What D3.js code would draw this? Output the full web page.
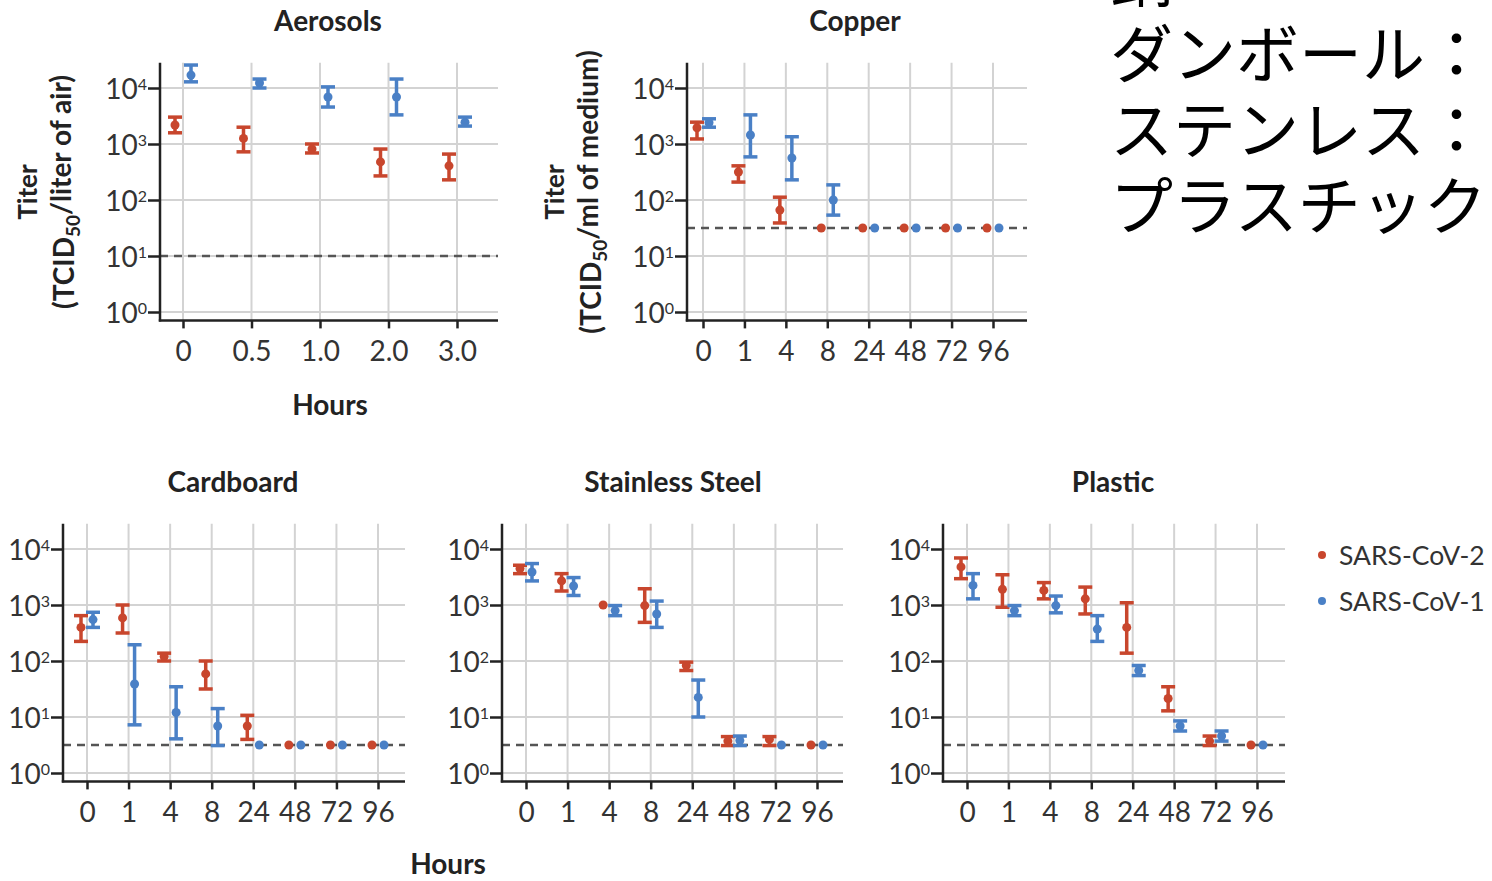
<!DOCTYPE html>
<html><head><meta charset="utf-8">
<script src="https://cdn.jsdelivr.net/npm/d3@7"></script>
<style>
html,body{margin:0;padding:0;background:#fff;}
svg{display:block;}
</style></head>
<body>
<svg id="chart" width="1492" height="881"></svg>
<script>
// ---------- DATA (log10 titer: [mid, low, high]; null = no error bar) ----------
const hoursAerosol = ["0", "0.5", "1.0", "2.0", "3.0"];
const hoursSurface = ["0", "1", "4", "8", "24", "48", "72", "96"];
const seriesNames = ["SARS-CoV-2", "SARS-CoV-1"];

const aerosolCov2 = [[3.34,3.20,3.48],[3.10,2.86,3.30],[2.91,2.84,3.00],[2.68,2.43,2.91],[2.61,2.36,2.82]];
const aerosolCov1 = [[4.23,4.11,4.41],[4.09,4.00,4.16],[3.84,3.66,4.02],[3.84,3.52,4.16],[3.39,3.32,3.48]];

const copperCov2 = [[3.29,3.09,3.39],[2.50,2.32,2.61],[1.82,1.59,2.05],[1.5,null,null],[1.5,null,null],[1.5,null,null],[1.5,null,null],[1.5,null,null]];
const copperCov1 = [[3.38,3.30,3.45],[3.16,2.77,3.52],[2.75,2.36,3.13],[2.00,1.73,2.27],[1.5,null,null],[1.5,null,null],[1.5,null,null],[1.5,null,null]];

const cardboardCov2 = [[2.60,2.35,2.81],[2.77,2.50,3.00],[2.08,2.00,2.14],[1.77,1.50,2.00],[0.84,0.60,1.03],[0.5,null,null],[0.5,null,null],[0.5,null,null]];
const cardboardCov1 = [[2.74,2.60,2.87],[1.59,0.86,2.29],[1.08,0.61,1.54],[0.84,0.49,1.15],[0.5,null,null],[0.5,null,null],[0.5,null,null],[0.5,null,null]];

const steelCov2 = [[3.65,3.56,3.71],[3.43,3.25,3.56],[3.00,null,null],[2.99,2.69,3.29],[1.92,1.83,1.98],[0.57,0.49,0.65],[0.60,0.49,0.65],[0.5,null,null]];
const steelCov1 = [[3.59,3.43,3.74],[3.34,3.17,3.49],[2.90,2.81,2.99],[2.84,2.60,3.07],[1.35,1.00,1.66],[0.58,0.49,0.66],[0.5,null,null],[0.5,null,null]];

const plasticCov2 = [[3.68,3.47,3.84],[3.28,2.96,3.54],[3.26,3.11,3.40],[3.11,2.84,3.32],[2.60,2.14,3.04],[1.33,1.11,1.54],[0.57,0.49,0.66],[0.5,null,null]];
const plasticCov1 = [[3.35,3.11,3.56],[2.90,2.81,2.99],[2.99,2.86,3.16],[2.57,2.35,2.81],[1.83,1.74,1.92],[0.84,0.75,0.93],[0.66,0.57,0.75],[0.5,null,null]];

const detectionLimitAerosol = 1.0;
const detectionLimitCopper = 1.5;
const detectionLimitSurface = 0.5;

const yTickExponents = [0, 1, 2, 3, 4];
const noteLines = ["銅：", "ダンボール：", "ステンレス：", "プラスチック"];

// ---------- STYLE / LAYOUT ----------
const RED = "#c8462d", BLUE = "#4a80c6";
const FONT = "Lato, 'Open Sans', sans-serif";
const svg = d3.select("#chart");
svg.append("rect").attr("width",1492).attr("height",881).attr("fill","#fff");

const panels = [
  {title:"Aerosols", cats:hoursAerosol, s2:aerosolCov2, s1:aerosolCov1, limit:detectionLimitAerosol,
   x0:160, xEnd:498, first:183, last:457, base:312, off:8, titleX:328},
  {title:"Copper", cats:hoursSurface, s2:copperCov2, s1:copperCov1, limit:detectionLimitCopper,
   x0:687, xEnd:1027, first:703, last:993, base:312, off:6, titleX:855},
  {title:"Cardboard", cats:hoursSurface, s2:cardboardCov2, s1:cardboardCov1, limit:detectionLimitSurface,
   x0:63, xEnd:405, first:87, last:378, base:773, off:6, titleX:233},
  {title:"Stainless Steel", cats:hoursSurface, s2:steelCov2, s1:steelCov1, limit:detectionLimitSurface,
   x0:502, xEnd:843, first:526, last:817, base:773, off:6, titleX:673},
  {title:"Plastic", cats:hoursSurface, s2:plasticCov2, s1:plasticCov1, limit:detectionLimitSurface,
   x0:943, xEnd:1285, first:967, last:1257, base:773, off:6, titleX:1113}
];
const DEC = 56;

function drawPanel(p){
  const g = svg.append("g");
  const x = d3.scalePoint().domain(p.cats).range([p.first, p.last]);
  const y = d3.scaleLog().domain([Math.pow(10,-0.15), Math.pow(10,4.45)])
              .range([p.base + 0.15*DEC, p.base - 4.45*DEC]);
  const yBot = y.range()[0], yTop = y.range()[1];

  // grid
  g.selectAll(".hg").data(yTickExponents).join("line")
    .attr("x1",p.x0).attr("x2",p.xEnd)
    .attr("y1",d=>y(Math.pow(10,d))).attr("y2",d=>y(Math.pow(10,d)))
    .attr("stroke","#d3d3d3").attr("stroke-width",2);
  g.selectAll(".vg").data(p.cats).join("line")
    .attr("x1",d=>x(d)).attr("x2",d=>x(d)).attr("y1",yTop).attr("y2",yBot)
    .attr("stroke","#d3d3d3").attr("stroke-width",2);

  // detection limit
  g.append("line").attr("x1",p.x0).attr("x2",p.xEnd)
    .attr("y1",y(Math.pow(10,p.limit))).attr("y2",y(Math.pow(10,p.limit)))
    .attr("stroke","#555").attr("stroke-width",2.5).attr("stroke-dasharray","8,6");

  // y axis
  const ya = g.append("g").attr("transform",`translate(${p.x0},0)`)
    .call(d3.axisLeft(y).tickValues(yTickExponents.map(e=>Math.pow(10,e))).tickSize(12).tickSizeOuter(0).tickFormat(""));
  ya.select(".domain").remove();
  ya.selectAll(".tick line").attr("stroke","#222").attr("stroke-width",2.5);
  ya.selectAll(".tick").append("text")
    .attr("x",-13).attr("dy","0.36em").attr("text-anchor","end")
    .attr("fill","#333").style("font-family",FONT).style("font-size","28px")
    .each(function(d){
      const t = d3.select(this);
      t.append("tspan").text("10");
      t.append("tspan").attr("dy","-0.55em").style("font-size","16px").text(Math.round(Math.log10(d)));
    });
  g.append("line").attr("x1",p.x0).attr("x2",p.x0).attr("y1",yTop).attr("y2",yBot+1.2)
    .attr("stroke","#222").attr("stroke-width",2.5);

  // x axis
  const xa = g.append("g").attr("transform",`translate(0,${yBot})`)
    .call(d3.axisBottom(x).tickSize(8).tickSizeOuter(0).tickPadding(13));
  xa.select(".domain").remove();
  xa.selectAll(".tick line").attr("stroke","#222").attr("stroke-width",2.5);
  xa.selectAll(".tick text").attr("fill","#333").style("font-family",FONT).style("font-size","28px");
  g.append("line").attr("x1",p.x0-1.2).attr("x2",p.xEnd).attr("y1",yBot).attr("y2",yBot)
    .attr("stroke","#222").attr("stroke-width",2.5);

  // title
  g.append("text").attr("x",p.titleX).attr("y",p.base - 281).attr("text-anchor","middle")
    .attr("fill","#222").style("font-family",FONT).style("font-weight","bold").style("font-size","28px")
    .text(p.title);

  // series
  [[p.s2, RED, -p.off], [p.s1, BLUE, p.off]].forEach(([data, col, off])=>{
    const sg = g.append("g");
    data.forEach((d,i)=>{
      const cx = x(p.cats[i]) + off;
      if (d[1] !== null){
        const y1 = y(Math.pow(10,d[1])), y2 = y(Math.pow(10,d[2]));
        sg.append("line").attr("x1",cx).attr("x2",cx).attr("y1",y1).attr("y2",y2).attr("stroke",col).attr("stroke-width",3.5);
        [y1,y2].forEach(yy=>sg.append("line").attr("x1",cx-7).attr("x2",cx+7).attr("y1",yy).attr("y2",yy)
          .attr("stroke",col).attr("stroke-width",3.5));
      }
      sg.append("circle").attr("cx",cx).attr("cy",y(Math.pow(10,d[0]))).attr("r",4.5).attr("fill",col);
    });
  });
}
panels.forEach(drawPanel);

// y axis titles
function yTitle(cx, cy, unit){
  svg.append("text").attr("transform",`translate(${cx},${cy}) rotate(-90)`)
    .attr("text-anchor","middle").attr("fill","#222").style("font-family",FONT)
    .style("font-weight","bold").style("font-size","26px").text("Titer");
  const t2 = svg.append("text").attr("transform",`translate(${cx+37},${cy}) rotate(-90)`)
    .attr("text-anchor","middle").attr("fill","#222").style("font-family",FONT)
    .style("font-weight","bold").style("font-size","28px");
  t2.append("tspan").text("(TCID");
  t2.append("tspan").attr("dy","0.3em").style("font-size","19px").text("50");
  t2.append("tspan").attr("dy","-0.3em").text(unit);
}
yTitle(37, 192, "/liter of air)");
yTitle(564, 192, "/ml of medium)");

// Hours labels
svg.append("text").attr("x",330).attr("y",415).attr("text-anchor","middle").attr("fill","#222")
  .style("font-family",FONT).style("font-weight","bold").style("font-size","28px").text("Hours");
svg.append("text").attr("x",448).attr("y",874).attr("text-anchor","middle").attr("fill","#222")
  .style("font-family",FONT).style("font-weight","bold").style("font-size","28px").text("Hours");

// legend
[[RED, seriesNames[0], 555],[BLUE, seriesNames[1], 601]].forEach(([c,t,yy])=>{
  svg.append("circle").attr("cx",1322).attr("cy",yy).attr("r",4).attr("fill",c);
  svg.append("text").attr("x",1339).attr("y",yy).attr("dy","0.36em").attr("fill","#333")
    .style("font-family",FONT).style("font-size","26.5px").text(t);
});

// Japanese note
noteLines.forEach((t,i)=>{
  svg.append("text").attr("x",1110).attr("y",1 + i*76).attr("fill","#000")
    .style("font-family","'Noto Sans CJK JP', sans-serif").style("font-size","63px").text(t);
});
</script>
</body></html>
